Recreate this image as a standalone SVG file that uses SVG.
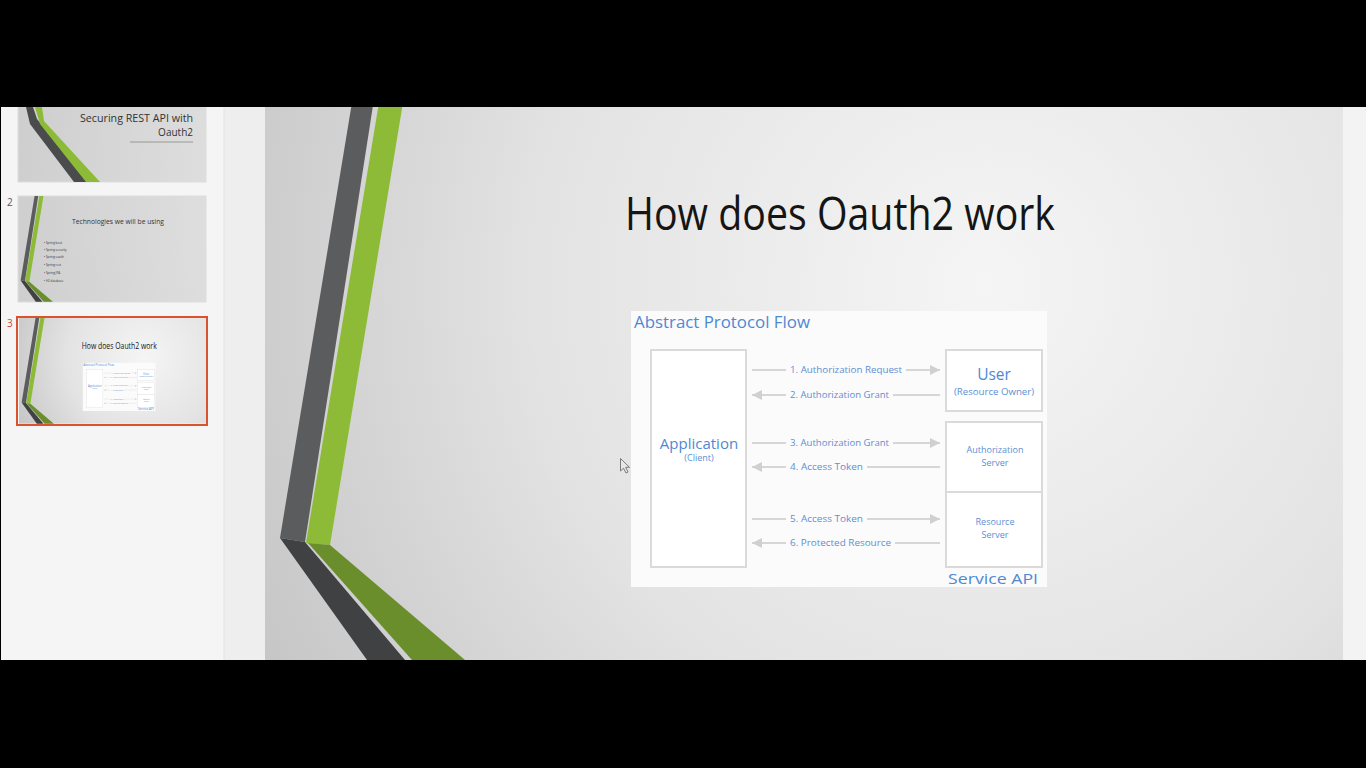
<svg xmlns="http://www.w3.org/2000/svg" xmlns:xlink="http://www.w3.org/1999/xlink" width="1366" height="768" viewBox="0 0 1366 768">
<style>
.lbl{font-family:"Open Sans","Liberation Sans",sans-serif;font-size:9.5px;fill:#5b8fd4}
.node{fill:#ffffff;stroke:#dadada;stroke-width:2}
.big{font-family:"Open Sans","Liberation Sans",sans-serif;fill:#4f88d2;text-anchor:middle}
.small{font-family:"Open Sans","Liberation Sans",sans-serif;font-size:9px;fill:#5b8fd4;text-anchor:middle}
.conn{stroke:#d6d6d6;stroke-width:2;fill:none}
.lblbg{fill:#fbfbfb}
.thumbtxt{font-family:"Open Sans","Liberation Sans",sans-serif;fill:#333}
</style>
<defs>
<radialGradient id="slideBg" gradientUnits="userSpaceOnUse" cx="720" cy="230" r="900">
<stop offset="0" stop-color="#f5f5f5"/>
<stop offset="0.5" stop-color="#e3e3e3"/>
<stop offset="1" stop-color="#bfbfbf"/>
</radialGradient>
<marker id="ah" viewBox="0 0 10 10" refX="10" refY="5" markerWidth="5" markerHeight="5" orient="auto-start-reverse" markerUnits="strokeWidth">
<path d="M0,0 L10,5 L0,10 Z" fill="#d0d0d0"/>
</marker>
<g id="stripes">
<polygon points="95,0 116,0 40,488 15,484" fill="#5b5c5e"/>
<polygon points="15,484 40,488 140,606 102,606" fill="#3f4143"/>
<polygon points="122,0 146,0 65,491 41,489" fill="#8dbb38"/>
<polygon points="43,489 65,491 200,606 147,606" fill="#6a8e2b"/>
</g>
</defs>

<rect x="0" y="0" width="1366" height="768" fill="#000"/>
<!-- left slide panel -->
<rect x="1" y="107" width="223" height="553" fill="#f5f5f5"/>
<rect x="224" y="107" width="41" height="553" fill="#eeeeee"/>
<line x1="224" y1="107" x2="224" y2="660" stroke="#e2e2e2" stroke-width="1"/>
<rect x="1343" y="107" width="23" height="553" fill="#f3f3f3"/>

<!-- main slide -->
<g id="slide" transform="translate(265,54)">
<rect x="0" y="0" width="1078" height="606" fill="url(#slideBg)"/>
<use xlink:href="#stripes"/>
<text x="575" y="176" font-family="Open Sans, Liberation Sans, sans-serif" font-size="46" fill="#151515" text-anchor="middle" textLength="430" lengthAdjust="spacingAndGlyphs">How does Oauth2 work</text>
<g id="diagram">
<rect x="366" y="257" width="416" height="276" fill="#fbfbfb"/>
<text x="369" y="274" font-family="Open Sans, Liberation Sans, sans-serif" font-size="15.5" fill="#4f88d2" textLength="176" lengthAdjust="spacingAndGlyphs">Abstract Protocol Flow</text>
<g id="connectors">
<line class="conn" x1="487" y1="316" x2="675" y2="316" marker-end="url(#ah)"/>
<line class="conn" x1="487" y1="341" x2="675" y2="341" marker-start="url(#ah)"/>
<line class="conn" x1="487" y1="389" x2="675" y2="389" marker-end="url(#ah)"/>
<line class="conn" x1="487" y1="413" x2="675" y2="413" marker-start="url(#ah)"/>
<line class="conn" x1="487" y1="465" x2="675" y2="465" marker-end="url(#ah)"/>
<line class="conn" x1="487" y1="489" x2="675" y2="489" marker-start="url(#ah)"/>
<rect class="lblbg" x="521" y="309" width="120" height="14"/>
<rect class="lblbg" x="521" y="334" width="107" height="14"/>
<rect class="lblbg" x="521" y="382" width="107" height="14"/>
<rect class="lblbg" x="521" y="406" width="81" height="14"/>
<rect class="lblbg" x="521" y="458" width="81" height="14"/>
<rect class="lblbg" x="521" y="482" width="109" height="14"/>
<text class="lbl" x="525" y="319" textLength="112" lengthAdjust="spacingAndGlyphs">1. Authorization Request</text>
<text class="lbl" x="525" y="344" textLength="99" lengthAdjust="spacingAndGlyphs">2. Authorization Grant</text>
<text class="lbl" x="525" y="392" textLength="99" lengthAdjust="spacingAndGlyphs">3. Authorization Grant</text>
<text class="lbl" x="525" y="416" textLength="73" lengthAdjust="spacingAndGlyphs">4. Access Token</text>
<text class="lbl" x="525" y="468" textLength="73" lengthAdjust="spacingAndGlyphs">5. Access Token</text>
<text class="lbl" x="525" y="492" textLength="101" lengthAdjust="spacingAndGlyphs">6. Protected Resource</text>
</g>
<g id="application">
<rect class="node" x="386" y="296" width="95" height="217"/>
<text class="big" x="434" y="395" font-size="15">Application</text>
<text class="small" x="434" y="407">(Client)</text>
</g>
<g id="user">
<rect class="node" x="681" y="296" width="96" height="61"/>
<text class="big" x="729" y="326" font-size="15.5">User</text>
<text class="small" x="729" y="341" font-size="8.5" textLength="80" lengthAdjust="spacingAndGlyphs">(Resource Owner)</text>
</g>
<g id="authorization-server">
<rect class="node" x="681" y="368" width="96" height="70"/>
<text class="small" x="730" y="399" font-size="9.5">Authorization</text>
<text class="small" x="730" y="412" font-size="9.5">Server</text>
</g>
<g id="resource-server">
<rect class="node" x="681" y="438" width="96" height="75"/>
<text class="small" x="730" y="471" font-size="9.5">Resource</text>
<text class="small" x="730" y="484" font-size="9.5">Server</text>
</g>
<g id="service-api">
<text x="773" y="530" font-family="Open Sans, Liberation Sans, sans-serif" font-size="15" fill="#4f88d2" text-anchor="end" textLength="90" lengthAdjust="spacingAndGlyphs">Service API</text>
</g>
</g>
</g>

<!-- thumbnail 1 -->
<g id="thumb1">
<rect x="18" y="76" width="188" height="106" fill="url(#slideBg)" stroke="#dddddd" stroke-width="1"/>
<polygon points="26,107 33,107 37,119 88,182 74,182 30,124" fill="#4a4b4d"/>
<polygon points="35,107 42,107 44,121 100,182 86,182 40,124" fill="#8dbb38"/>
<text class="thumbtxt" x="193" y="122" font-size="10" text-anchor="end" textLength="113" lengthAdjust="spacingAndGlyphs">Securing REST API with</text>
<text class="thumbtxt" x="193" y="136" font-size="10" text-anchor="end">Oauth2</text>
<line x1="130" y1="142" x2="193" y2="142" stroke="#888" stroke-width="0.8"/>
</g>

<!-- thumbnail 2 -->
<text x="7" y="206" font-family="Open Sans, Liberation Sans, sans-serif" font-size="10" fill="#555">2</text>
<g id="thumb2">
<rect x="18" y="196" width="188" height="106" fill="url(#slideBg)" stroke="#dddddd" stroke-width="1"/>
<use xlink:href="#stripes" transform="translate(18,196) scale(0.1744)"/>
<text class="thumbtxt" x="118" y="224" font-size="6.5" text-anchor="middle" textLength="92" lengthAdjust="spacingAndGlyphs">Technologies we will be using</text>
<g font-size="3" class="thumbtxt" fill="#555">
<text x="44" y="244">• Spring boot</text>
<text x="44" y="251">• Spring security</text>
<text x="44" y="258">• Spring oauth</text>
<text x="44" y="266">• Spring rest</text>
<text x="44" y="274">• Spring JPA</text>
<text x="44" y="282">• H2 database</text>
</g>
</g>

<!-- thumbnail 3 (selected) -->
<text x="7" y="327" font-family="Open Sans, Liberation Sans, sans-serif" font-size="10" fill="#d24726">3</text>
<g id="thumb3">
<use xlink:href="#slide" transform="translate(19,318) scale(0.1744) translate(-265,-54)"/>
<rect x="17" y="317" width="190" height="108" fill="none" stroke="#d9532f" stroke-width="2"/>
</g>

<!-- mouse cursor -->
<path d="M620.5,458.5 L620.5,471 L623.5,468.2 L626,473 L628,472 L625.7,467.3 L629.5,467.3 Z" fill="#e8e8e8" stroke="#7a7a7a" stroke-width="1"/>

<!-- letterbox bands -->
<rect x="0" y="0" width="1366" height="107" fill="#000"/>
<rect x="0" y="660" width="1366" height="108" fill="#000"/>
</svg>
